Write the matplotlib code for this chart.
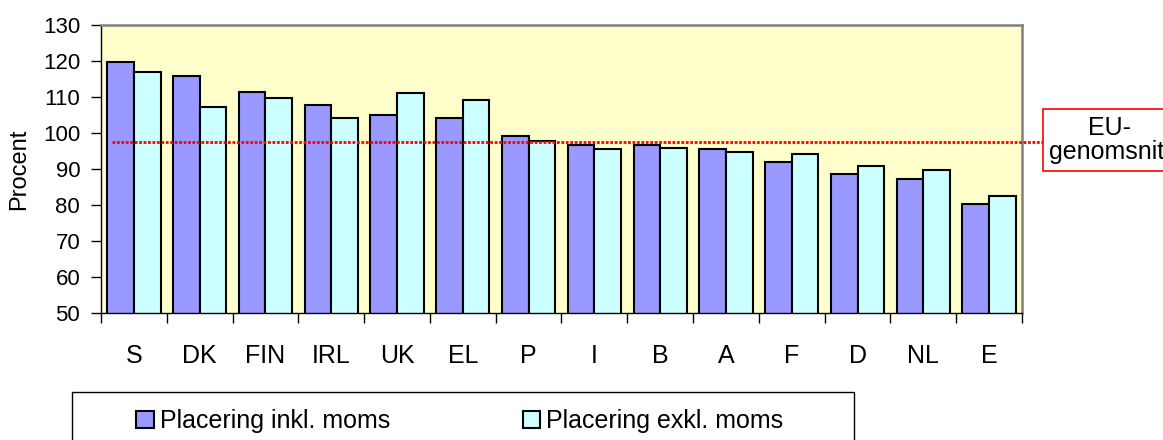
import numpy as np
import matplotlib
matplotlib.use('Agg')
import matplotlib.pyplot as plt
from matplotlib.patches import Rectangle, Patch
from matplotlib.ticker import FixedLocator, NullFormatter

plt.rcParams['font.family'] = ['Liberation Sans', 'DejaVu Sans']

# data
countries = ['S', 'DK', 'FIN', 'IRL', 'UK', 'EL', 'P', 'I', 'B', 'A', 'F', 'D', 'NL', 'E']
inkl_moms = [119.6, 115.9, 111.5, 107.9, 105.1, 104.2, 99.1, 96.6, 96.6, 95.5, 91.9, 88.5, 87.3, 80.2]
exkl_moms = [117.0, 107.1, 109.6, 104.1, 111.0, 109.1, 97.9, 95.5, 95.9, 94.7, 94.1, 90.8, 89.6, 82.5]
eu_average = 97.4
labels = ['Placering inkl. moms', 'Placering exkl. moms']

W, H = 1163, 440
fig = plt.figure(figsize=(W / 100, H / 100), dpi=100)
ax = fig.add_axes([101 / W, 1 - 313 / H, (1022 - 101) / W, (313 - 25) / H])
ax.set_facecolor('#FFFFCC')

x = np.arange(len(countries))
bw = 0.405
ax.bar(x - bw / 2, inkl_moms, bw, bottom=0, color='#9999FF', edgecolor='black', linewidth=1.5, zorder=2)
ax.bar(x + bw / 2, exkl_moms, bw, bottom=0, color='#CCFFFF', edgecolor='black', linewidth=1.5, zorder=2)

ax.set_xlim(-0.5, len(countries) - 0.5)
ax.set_ylim(50, 130)
ax.set_yticks(np.arange(50, 131, 10))

# EU average line runs out of the plot into the label box
# (the box is cut by the right edge of the picture, as in the original)
ax.axhline(eu_average, xmin=11 / 921, xmax=942 / 921, color='#FF0000',
           linestyle=(0, (1, 0.6)), linewidth=2.0, clip_on=False, zorder=3)
ax.text(1110 / W, 1 - 140 / H, 'EU-\ngenomsnitt', transform=fig.transFigure,
        ha='center', va='center', fontsize=18, linespacing=1.05,
        bbox=dict(boxstyle='square,pad=0.25', facecolor='white', edgecolor='#FF0000', linewidth=1.2))

ax.set_xticks(x)
ax.set_xticklabels(countries, fontsize=18)
ax.tick_params(axis='x', which='major', length=0, pad=22)
ax.xaxis.set_minor_locator(FixedLocator(np.arange(-0.5, len(countries), 1)))
ax.xaxis.set_minor_formatter(NullFormatter())
ax.tick_params(axis='x', which='minor', length=7, width=1, color='black', direction='out')
ax.tick_params(axis='y', length=7, width=1, labelsize=16, pad=8, direction='out')

for side in ['top', 'right']:
    ax.spines[side].set_color('#808080')
    ax.spines[side].set_linewidth(1.8)
for side in ['left', 'bottom']:
    ax.spines[side].set_color('black')
    ax.spines[side].set_linewidth(1.0)

ax.set_ylabel('Procent', fontsize=17)
ax.yaxis.set_label_coords(-0.077, 0.5)

# legend box runs past the bottom edge of the image
fig.patches.append(Rectangle((72 / W, -0.1), (854 - 72) / W, 0.1 + 1 - 392 / H,
                             transform=fig.transFigure, facecolor='white',
                             edgecolor='black', linewidth=1.0, zorder=0))
handles = [Patch(facecolor='#9999FF', edgecolor='black', linewidth=1.5),
           Patch(facecolor='#CCFFFF', edgecolor='black', linewidth=1.5)]
fig.legend(handles, labels, loc='center left', bbox_to_anchor=(126 / W, 1 - 421 / H),
           ncol=2, frameon=False, fontsize=18, handlelength=0.7, handleheight=0.7,
           handletextpad=0.25, columnspacing=5.3, borderaxespad=0)

fig.savefig('out.png', dpi=100)
